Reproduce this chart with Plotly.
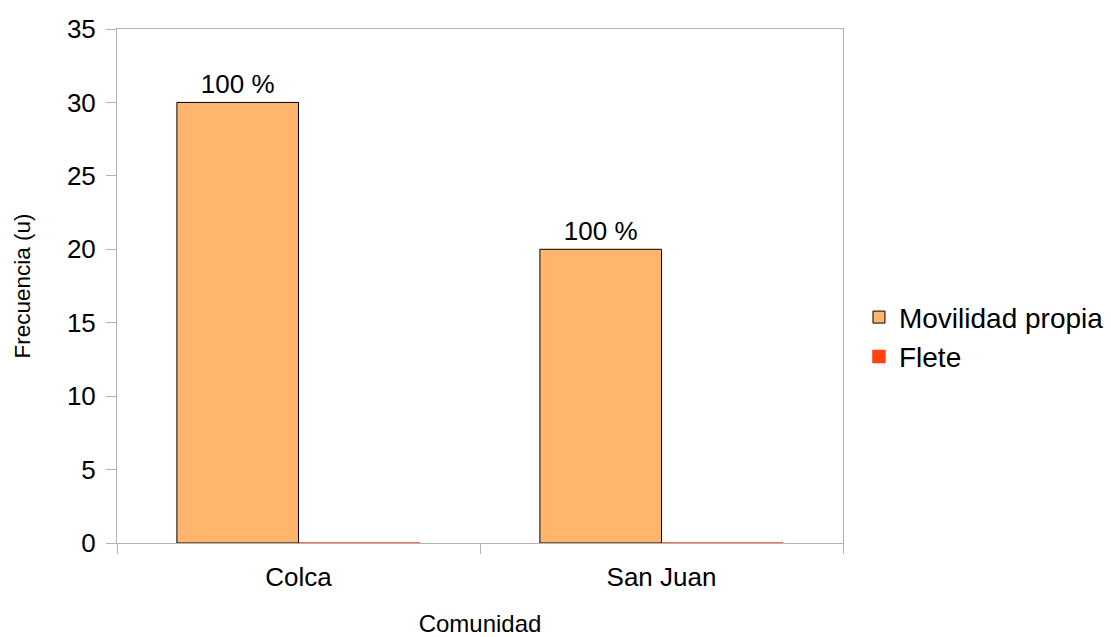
import plotly.graph_objects as go

categories = ["Colca", "San Juan"]
movilidad = [30, 20]
flete = [0, 0]
movilidad_labels = ["100 %", "100 %"]

FONT = "Liberation Sans, Arial, sans-serif"

fig = go.Figure()
fig.add_trace(go.Bar(
    name="Movilidad propia", x=categories, y=movilidad,
    marker=dict(color="#ffb66c", line=dict(color="#000000", width=1)),
    text=movilidad_labels, textposition="outside", cliponaxis=False,
    textfont=dict(size=26, color="#000000", family=FONT),
    legendgroup="a",
))
fig.add_trace(go.Bar(
    name="Flete", x=categories, y=flete,
    marker=dict(color="#ff420e", line=dict(color="#ff420e", width=1.5)),
    legendgroup="b",
))

fig.update_layout(
    width=1111, height=637,
    margin=dict(l=117, r=268, t=29, b=94, autoexpand=False),
    paper_bgcolor="white", plot_bgcolor="white",
    barmode="group", bargap=0.33, bargroupgap=0,
    font=dict(family=FONT, color="#000000"),
    showlegend=True,
    legend=dict(x=1.022, y=0.401, xanchor="left", yanchor="middle",
                font=dict(size=28, family=FONT), tracegroupgap=0,
                itemwidth=30, bgcolor="rgba(0,0,0,0)"),
)
fig.update_xaxes(
    automargin=False,
    showline=True, linecolor="#b3b3b3", linewidth=1, mirror=True,
    ticks="outside", tickson="boundaries", ticklen=10, tickcolor="#b3b3b3",
    tickfont=dict(size=26, family=FONT), ticklabelstandoff=11,
    showgrid=False,
    title=dict(text="Comunidad", font=dict(size=24, family=FONT), standoff=33),
)
fig.update_yaxes(
    automargin=False,
    range=[0, 35], dtick=5, showline=True, linecolor="#b3b3b3", linewidth=1,
    mirror=True, ticks="outside", ticklen=10, tickcolor="#b3b3b3",
    tickfont=dict(size=26, family=FONT), ticklabelstandoff=5,
    showgrid=False, zeroline=False,
    title=dict(text="Frecuencia (u)", font=dict(size=22.5, family=FONT), standoff=30),
)

fig.write_html("out.html")
